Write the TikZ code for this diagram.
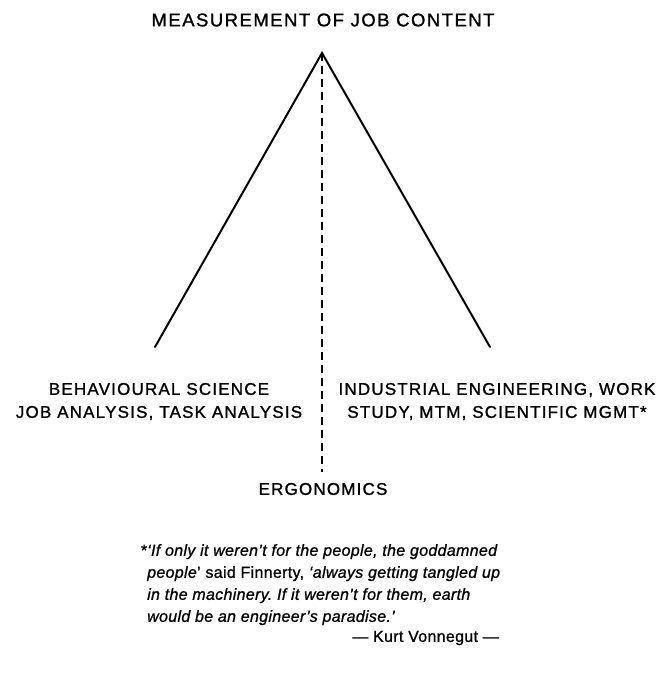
\documentclass[tikz,border=0pt]{standalone}
\usepackage{fontspec}
\setmainfont{Liberation Sans}
\begin{document}
\frenchspacing
\begin{tikzpicture}[x=1pt,y=-1pt,
  lbl/.style={inner sep=0pt,align=center,font=\fontsize{17}{23}\selectfont\addfontfeature{LetterSpace=7,FakeBold=1.2}},
  ttl/.style={inner sep=0pt,font=\fontsize{18.5}{20}\selectfont\addfontfeature{LetterSpace=8,FakeBold=1.2}},
  qt/.style={inner sep=0pt,align=left,font=\fontsize{16}{22}\selectfont\addfontfeature{LetterSpace=2,FakeBold=1}},
  leg/.style={line width=2pt,line cap=round},
  axis/.style={line width=1.8pt,dash pattern=on 8pt off 5pt}]
\useasboundingbox (0,0) rectangle (667,681);
\node[ttl] (title) at (323,20) {MEASUREMENT OF JOB CONTENT};
\coordinate (apex) at (322,53);
\coordinate (lend) at (155,347);
\coordinate (rend) at (490,347);
\coordinate (dend) at (322,472);
\draw[leg] (lend) -- (apex) -- (rend);
\draw[axis] (apex) -- (dend);
\node[lbl] (left) at (159,401.5) {BEHAVIOURAL SCIENCE\\JOB ANALYSIS, TASK ANALYSIS};
\node[lbl] (right) at (497,401.5) {INDUSTRIAL ENGINEERING, WORK\\STUDY, MTM, SCIENTIFIC MGMT*};
\node[lbl] (ergo) at (323,489) {ERGONOMICS};
\node[qt,anchor=north west] (quote) at (147,544) {\llap{*}\textit{`If only it weren't for the people, the goddamned}\\
\textit{people}' said Finnerty, \textit{`always getting tangled up}\\
\textit{in the machinery. If it weren't for them, earth}\\
\textit{would be an engineer's paradise.'}};
\node[qt,anchor=east] (author) at (499,638) {--- Kurt Vonnegut ---};
\end{tikzpicture}
\end{document}
